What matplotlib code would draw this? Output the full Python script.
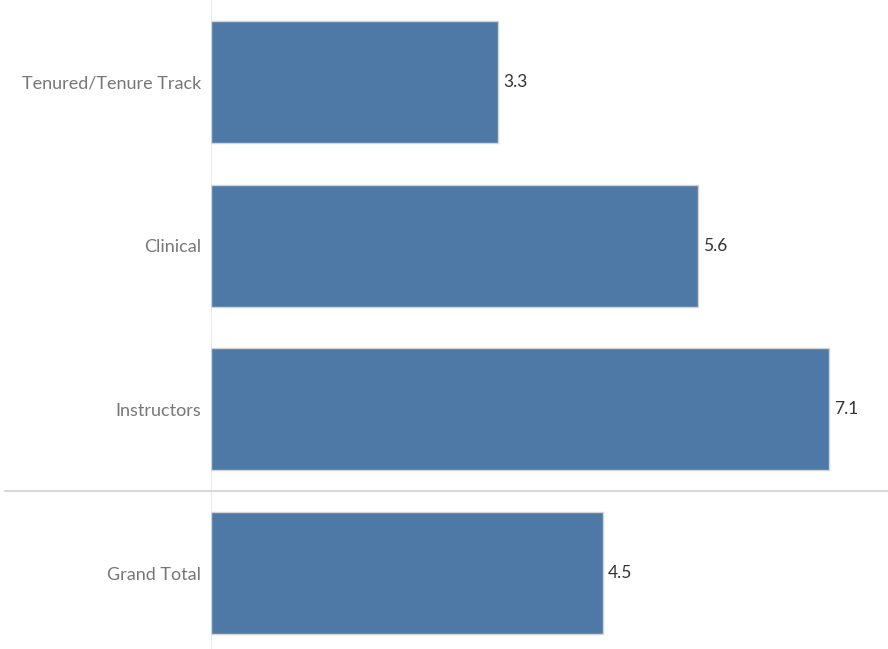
import matplotlib.pyplot as plt

plt.rcParams['font.family'] = ['Lato', 'DejaVu Sans']

categories = ['Tenured/Tenure Track', 'Clinical', 'Instructors', 'Grand Total']
values = [3.3, 5.6, 7.1, 4.5]

W, H = 888, 649
fig = plt.figure(figsize=(W / 100, H / 100), dpi=100)
# axes: left edge at the zero line, rows of ~164 px
ax = fig.add_axes([211 / W, (649 - 655) / H, (W - 211) / W, 655 / H])

ypos = list(range(len(categories)))
ax.barh(ypos, values, height=0.745, color='#4e79a7', edgecolor='#d4d4d4',
        linewidth=1.0, zorder=3)
ax.set_xlim(0, 677 / 87.0)
ax.set_ylim(3.5, -0.5)

for y, v in zip(ypos, values):
    ax.text(v + 0.06, y, f'{v:.1f}', va='center', ha='left', fontsize=12.5,
            color='#333333')

ax.set_yticks(ypos)
ax.set_yticklabels(categories, fontsize=13, color='#777777')
ax.tick_params(axis='y', length=0, pad=7)
ax.set_xticks([])
for s in ax.spines.values():
    s.set_visible(False)

# zero line and grand total separator
ax.axvline(0, color='#e6e6e6', linewidth=1.2, zorder=1)
fig.add_artist(plt.Line2D([5 / W, 1], [1 - 491 / H, 1 - 491 / H],
                          color='#d9d9d9', linewidth=1.5))

fig.savefig('out.png', dpi=100)
